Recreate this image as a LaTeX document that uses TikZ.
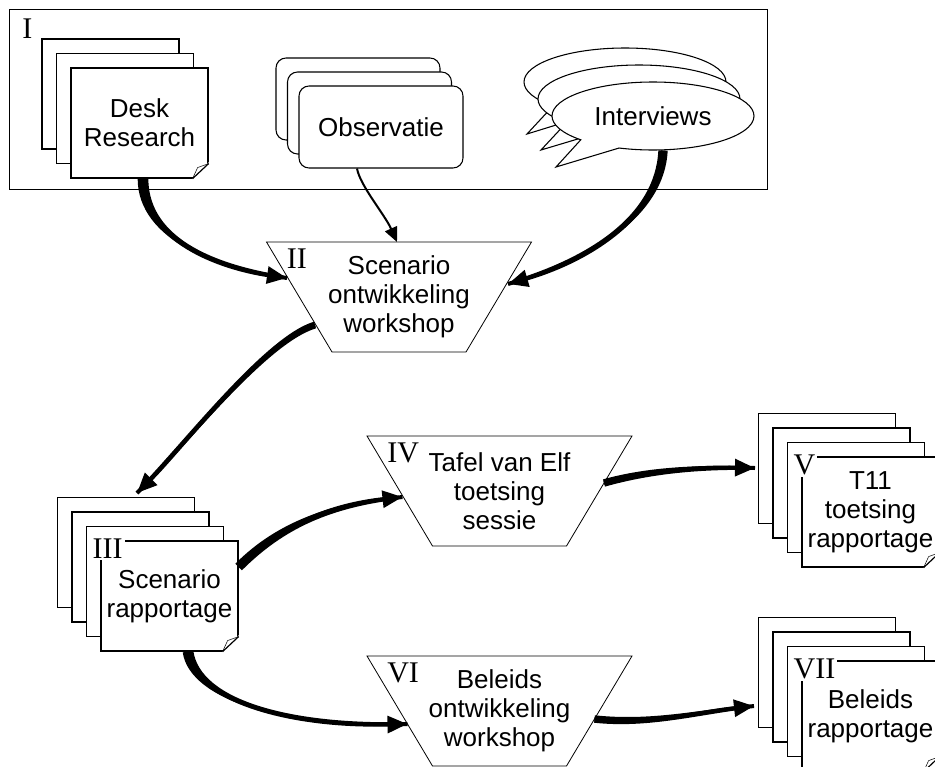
\documentclass[tikz,border=0pt]{standalone}
\usepackage{fontspec}
\setmainfont{Liberation Sans}
\newfontfamily\phasefont{Liberation Serif}
\usetikzlibrary{calc,arrows.meta,shapes.callouts}

% sheets lying behind a front page, #1 = centre of the front page
\newcommand\sheets[2]{%
  \foreach \k in {#2,...,1}
    \draw[sheet] ($(#1)+(-68.5-14.5*\k,-55-14.5*\k)$) rectangle ++(137,110);
}
% curled corner at the bottom right of a page
\newcommand\dogear[1]{%
  \fill[white] ($(#1.south east)+(-17,1)$) -- ($(#1.south east)+(1,1)$) -- ($(#1.south east)+(1,-17)$) -- cycle;
  \draw[sheet] ($(#1.south east)+(-16,0)$) -- ($(#1.south east)+(0,-15)$);
  \draw[thin] ($(#1.south east)+(-16,0)$) -- ($(#1.south east)+(-11,-11)$) -- ($(#1.south east)+(0,-15)$);
}
% workshop funnel round a text node
\newcommand\funnel[1]{%
  \draw[funnel edge] ($(#1)+(-132.5,-55)$) -- ++(265,0) -- ++(-65.5,110) -- ++(-134,0) -- cycle;
}
% tapered arrow: from, control offset at start, control offset at end, to, half width at start
\newcommand\flowarrow[5]{%
  \path (#1) coordinate (f0) ++#2 coordinate (f1) (#4) coordinate (f3) ++#3 coordinate (f2);
  \fill ($(f0)!#5!90:(f1)$) .. controls ($(f1)!#5!-90:(f0)$) and ($(f2)!1.5pt!90:(f3)$) .. ($(f3)!1.5pt!-90:(f2)$)
    -- ($(f3)!1.5pt!90:(f2)$) .. controls ($(f2)!1.5pt!-90:(f3)$) and ($(f1)!#5!90:(f0)$) .. ($(f0)!#5!-90:(f1)$) -- cycle;
  \draw[flow] (f0) .. controls (f1) and (f2) .. (f3);
}

\begin{document}
\begin{tikzpicture}[
  x=0.75pt, y=-0.75pt,
  every node/.style={font=\fontsize{19.5}{21.75}\selectfont},
  sheet/.style={draw, fill=white, line width=0.9pt},
  page/.style={sheet, minimum width=102.75pt, minimum height=82.5pt,
    inner sep=0pt, align=center},
  card/.style={draw, fill=white, line width=0.8pt, rounded corners=7.5pt},
  bubble/.style={ellipse callout, draw, fill=white, line width=0.8pt,
    minimum width=151.5pt, minimum height=51pt,
    callout absolute pointer={#1}, callout pointer arc=26},
  funnel edge/.style={draw, line width=0.6pt},
  phase/.style={font=\phasefont\fontsize{22.5}{22.5}\selectfont,
    anchor=base west, inner sep=1.5pt},
  tag/.style={phase, fill=white},
  flow/.style={line width=3pt, -{Triangle[length=15pt,width=12.5pt]}},
]
\useasboundingbox (0,0) rectangle (935,767);

% I: sources
\draw[line width=0.75pt] (9,10) rectangle (767,189);
\node[phase] (p1) at (20,39) {I};

\coordinate (deskc) at (139.5,123);
\sheets{deskc}{2}
\node[page] (desk) at (deskc) {Desk\\Research};
\dogear{desk}

\coordinate (obsc) at (381,127);
\foreach \k in {2,1}
  \draw[card] ($(obsc)+(-82-11.5*\k,-41-14*\k)$) rectangle ++(164,82);
\node[card, minimum width=123pt, minimum height=61.5pt] (obs) at (obsc) {Observatie};

\coordinate (tipb) at (527,134);
\coordinate (tipm) at (541,150);
\coordinate (tipf) at (556,167);
\node[bubble=(tipb)] (intb) at (625,82) {};
\node[bubble=(tipm)] (intm) at (639,99) {};
\node[bubble=(tipf)] (int) at (653,116) {Interviews};

% II
\node[align=center] (scen) at (399,297) {Scenario\\ontwikkeling\\workshop};
\funnel{scen}
\node[phase] (p2) at ($(scen)+(-114.5,-29)$) {II};

% III
\coordinate (repc) at (169.5,596);
\sheets{repc}{3}
\node[page] (rep) at (repc) {Scenario\\rapportage};
\dogear{rep}
\node[tag] (p3) at ($(rep.north west)+(-10,18)$) {III};

% IV
\node[align=center] (tafel) at (499.5,491) {Tafel van Elf\\toetsing\\sessie};
\funnel{tafel}
\node[phase] (p4) at ($(tafel)+(-114.5,-29)$) {IV};

% V
\coordinate (t11c) at (870.5,512);
\sheets{t11c}{3}
\node[page] (t11) at (t11c) {T11\\toetsing\\rapportage};
\dogear{t11}
\node[tag] (p5) at ($(t11.north west)+(-10,18)$) {V};

% VI
\node[align=center] (bel) at (499.5,711) {Beleids\\ontwikkeling\\workshop};
\funnel{bel}
\node[phase] (p6) at ($(bel)+(-114.5,-29)$) {VI};

% VII
\coordinate (belc) at (870.5,716);
\sheets{belc}{3}
\node[page] (belrap) at (belc) {Beleids\\rapportage};
\dogear{belrap}
\node[tag] (p7) at ($(belrap.north west)+(-10,18)$) {VII};

% flows
\flowarrow{$(desk.south)+(3.5,0)$}{(0,62)}{(-67,-10)}{$(scen)+(-112,-19)$}{4pt}
\draw[line width=1.5pt, -{Triangle[length=11pt,width=9.75pt]}] ($(obs.south)+(-24,0)$) .. controls +(3,17) and +(-12,-27) .. ($(scen)+(-2,-55)$);
\flowarrow{$(int.south)+(10,0)$}{(-3,65)}{(82,-24)}{$(scen)+(109,-13)$}{3.5pt}
\flowarrow{$(scen)+(-84,28)$}{(-50,15)}{(45,-45)}{$(rep)+(-32.5,-103)$}{2.6pt}
\flowarrow{$(rep.east)+(0,-29)$}{(42,-42)}{(-72,8)}{$(tafel)+(-97,6)$}{3.5pt}
\flowarrow{$(tafel)+(104.5,-8)$}{(46,-13)}{(-55,-1)}{$(t11)+(-115.5,-44)$}{2.8pt}
\flowarrow{$(rep.south)+(18.5,0)$}{(7,49)}{(-118,3)}{$(bel)+(-92,13)$}{4pt}
\flowarrow{$(bel)+(95,8)$}{(55,6)}{(-54,6)}{$(belrap)+(-116.5,-10)$}{2.8pt}
\end{tikzpicture}
\end{document}
